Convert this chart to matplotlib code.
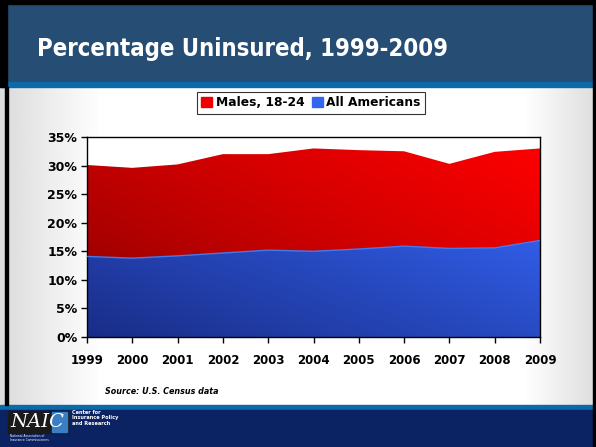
import numpy as np
import matplotlib
matplotlib.use("Agg")
import matplotlib.pyplot as plt
from matplotlib.patches import Rectangle

years = [1999, 2000, 2001, 2002, 2003, 2004, 2005, 2006, 2007, 2008, 2009]
males_18_24 = [30.1, 29.6, 30.2, 32.0, 32.0, 33.0, 32.7, 32.5, 30.3, 32.4, 33.0]
all_americans = [14.1, 13.8, 14.2, 14.7, 15.2, 15.0, 15.4, 15.9, 15.5, 15.6, 16.9]
y_ticks = [0, 5, 10, 15, 20, 25, 30, 35]
y_tick_labels = [f"{v}%" for v in y_ticks]

W, H = 596, 447
fig = plt.figure(figsize=(W / 100, H / 100), dpi=100)

# slide background
bg = fig.add_axes([0, 0, 1, 1])
bg.set_xlim(0, W)
bg.set_ylim(H, 0)
bg.axis("off")
xs = np.linspace(0, 1, 400)
shade = np.ones_like(xs)
shade = np.where(xs < 0.17, 0.86 + 0.14 * (xs / 0.17), shade)
shade = np.where(xs > 0.88, 1 - 0.13 * (xs - 0.88) / 0.12, shade)
grad = np.tile(shade, (10, 1))
bg.imshow(grad, cmap="gray", vmin=0, vmax=1, extent=[0, W, H, 0], aspect="auto")
bg.add_patch(Rectangle((0, 0), W, 82, color="#264d73"))
bg.add_patch(Rectangle((0, 82), W, 5, color="#0a6aaa"))
bg.add_patch(Rectangle((0, 405), W, 5, color="#0a6aaa"))
bg.add_patch(Rectangle((0, 410), W, 37, color="#0b2263"))
bg.add_patch(Rectangle((0, 0), W, 4, color="black"))
bg.add_patch(Rectangle((0, 0), 7, 87, color="black"))
bg.add_patch(Rectangle((5, 87), 2.5, 318, color="black"))
bg.add_patch(Rectangle((593, 0), 3, H, color="black"))

# title, fitted to the width it takes on the slide
title = bg.text(37, 49, "Percentage Uninsured, 1999-2009", color="white", fontsize=19,
                fontweight="bold", family="DejaVu Sans", fontstretch="condensed",
                va="center", ha="left")
fig.canvas.draw()
tw = title.get_window_extent().width
title.set_fontsize(19 * 411 / tw)

bg.text(105, 392, "Source: U.S. Census data", fontsize=5.8, fontstyle="italic",
        fontweight="bold", va="center", ha="left")

# logo area
bg.add_patch(Rectangle((8, 411), 60, 22, color="#1a1a1a"))
bg.add_patch(Rectangle((52, 412), 15, 20, color="#3a7fc4"))
bg.text(10, 422, "NAIC", color="white", fontsize=14, family="DejaVu Serif",
        fontstyle="italic", va="center", ha="left")
bg.text(10, 438, "National Association of\nInsurance Commissioners", color="white",
        fontsize=2.2, va="center", ha="left")
bg.text(72, 418, "Center for\nInsurance Policy\nand Research", color="white",
        fontsize=3.6, fontweight="bold", va="center", ha="left", linespacing=1.2)

# chart
ax = fig.add_axes([87 / W, 1 - 337 / H, (540 - 87) / W, 200 / H])
ax.set_facecolor("white")
ax.set_xlim(1999, 2009)
ax.set_ylim(0, 35)

gx, gy = np.meshgrid(np.linspace(0, 1, 300), np.linspace(0, 1, 300))
t = np.clip(0.55 * gx + 0.45 * gy, 0, 1)

red_img = np.zeros((300, 300, 3))
red_img[..., 0] = (120 + 135 * t ** 0.7) / 255
red = ax.imshow(red_img, origin="lower", extent=[1999, 2009, 0, 35], aspect="auto", zorder=1)
red_poly = ax.fill_between(years, 0, males_18_24, color="none", lw=0)
red.set_clip_path(red_poly.get_paths()[0], transform=ax.transData)

tb = np.clip(0.5 * gx + 0.6 * gy, 0, 1)
blue_img = np.zeros((300, 300, 3))
blue_img[..., 0] = (25 + 30 * tb) / 255
blue_img[..., 1] = (45 + 60 * tb) / 255
blue_img[..., 2] = (135 + 120 * tb) / 255
blue = ax.imshow(blue_img, origin="lower", extent=[1999, 2009, 0, 35], aspect="auto", zorder=2)
blue_poly = ax.fill_between(years, 0, all_americans, color="none", lw=0)
blue.set_clip_path(blue_poly.get_paths()[0], transform=ax.transData)
ax.plot(years, all_americans, color="#4a78e8", lw=1, zorder=3)

ax.set_xticks(years)
ax.set_xticklabels([str(y) for y in years], fontsize=8.5, fontweight="bold")
ax.set_yticks(y_ticks)
ax.set_yticklabels(y_tick_labels, fontsize=9, fontweight="bold")
ax.tick_params(axis="both", direction="out", length=4, width=1, color="black")
ax.tick_params(axis="x", pad=8)
ax.tick_params(axis="y", pad=3)
for s in ax.spines.values():
    s.set_linewidth(1)
    s.set_color("black")

handles = [Rectangle((0, 0), 1, 1, color="#ee0000"), Rectangle((0, 0), 1, 1, color="#3366ee")]
leg = fig.legend(handles, ["Males, 18-24", "All Americans"], loc="center",
                 bbox_to_anchor=(311 / W, 1 - 103 / H), ncol=2, fancybox=False,
                 frameon=True, edgecolor="black", prop={"weight": "bold", "size": 8.8},
                 handlelength=0.9, handleheight=0.9, handletextpad=0.3,
                 columnspacing=0.6, borderpad=0.35)
leg.get_frame().set_linewidth(0.8)

fig.savefig("out.png", dpi=100)
